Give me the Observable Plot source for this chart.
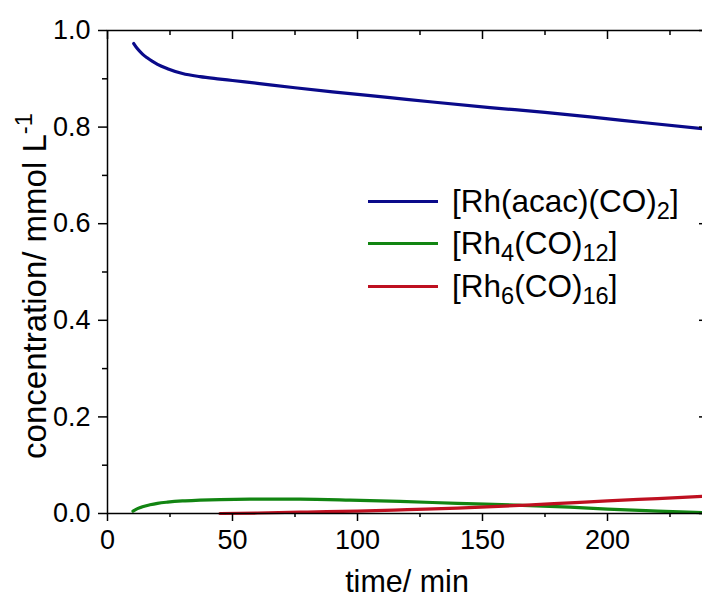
<!DOCTYPE html>
<html><head><meta charset="utf-8">
<script src="https://cdn.jsdelivr.net/npm/d3@7"></script>
<script src="https://cdn.jsdelivr.net/npm/@observablehq/plot@0.6"></script>
<style>
html,body{margin:0;padding:0;background:#fff;overflow:hidden;width:702px;height:599px}
#wrap{position:relative;width:702px;height:599px;overflow:hidden;font-family:"Liberation Sans",Arial,sans-serif;color:#000}
#wrap svg{max-width:none !important;width:710px !important;height:599px !important;display:block}
#legend{position:absolute;left:368px;top:180px;font-size:31.5px}
.row{display:flex;align-items:center;height:42.5px;white-space:nowrap}
.sw{width:70px;height:3px;margin-right:14px}
.lbl{line-height:1}
sub{font-size:0.75em;vertical-align:-0.28em;line-height:0}
sup{font-size:0.72em;vertical-align:0.55em;line-height:0}
#ytitle{position:absolute;left:34px;top:286px;transform:translate(-50%,-50%) rotate(-90deg);font-size:33px;line-height:1;white-space:nowrap}
#xtitle{position:absolute;left:407px;top:569px;transform:translateX(-50%);font-size:30.5px;line-height:24px;height:24px;white-space:nowrap}
</style></head><body><div id="wrap"></div>
<script>
// ---- data ----
const seriesNames = ["[Rh(acac)(CO)2]", "[Rh4(CO)12]", "[Rh6(CO)16]"];
const seriesLabelsHTML = ["[Rh(acac)(CO)<sub>2</sub>]", "[Rh<sub>4</sub>(CO)<sub>12</sub>]", "[Rh<sub>6</sub>(CO)<sub>16</sub>]"];
const seriesColors = ["#0a0a8a", "#128512", "#be1020"];

const timeBlue = [10.5, 12, 14, 16, 18, 20, 24, 30, 37, 45, 50, 60, 75, 90, 113, 130, 153, 175, 193, 215, 240];
const concBlue = [0.973, 0.962, 0.951, 0.943, 0.936, 0.930, 0.921, 0.911, 0.9045, 0.8995, 0.8965, 0.8905, 0.8815, 0.873, 0.861, 0.852, 0.8405, 0.8305, 0.821, 0.809, 0.7955];

const timeGreen = [10.2, 12, 14, 17, 20, 24, 30, 37, 45, 57, 77, 97, 117, 140, 166, 185, 200, 220, 240];
const concGreen = [0.005, 0.010, 0.014, 0.018, 0.021, 0.0235, 0.026, 0.0275, 0.0288, 0.0296, 0.0296, 0.0278, 0.025, 0.021, 0.017, 0.013, 0.009, 0.005, 0.0015];

const timeRed = [45, 60, 80, 100, 120, 140, 166, 185, 200, 220, 240];
const concRed = [0.0, 0.001, 0.003, 0.005, 0.008, 0.011, 0.017, 0.022, 0.026, 0.031, 0.036];

const xTicks = [0, 50, 100, 150, 200];
const xMinorTicks = [25, 75, 125, 175, 225];
const yTicks = [0.0, 0.2, 0.4, 0.6, 0.8, 1.0];
const yMinorTicks = [0.1, 0.3, 0.5, 0.7, 0.9];
const xTitle = "time/ min";
const yTitleHTML = "concentration/ mmol L<sup>-1</sup>";

// ---- build table ----
const rows = [];
[[timeBlue, concBlue], [timeGreen, concGreen], [timeRed, concRed]].forEach(([ts, cs], i) => {
  ts.forEach((t, j) => rows.push({t, c: cs[j], s: seriesNames[i]}));
});

const blank = () => "";
const plot = Plot.plot({
  width: 710, height: 599,
  marginLeft: 107, marginRight: 3, marginTop: 30, marginBottom: 86,
  style: {fontFamily: "'Liberation Sans', Arial, sans-serif", fontSize: "26px", background: "white", color: "black"},
  x: {domain: [0, 240]},
  y: {domain: [0, 1]},
  color: {domain: seriesNames, range: seriesColors},
  marks: [
    Plot.line(rows, {x: "t", y: "c", z: "s", stroke: "s", strokeWidth: 3.2, curve: "monotone-x"}),
    Plot.frame({stroke: "black", strokeWidth: 1.5}),
    Plot.axisX(xTicks, {anchor: "bottom", tickSize: 8, tickPadding: 8, strokeWidth: 1.5, label: null, tickFormat: d => String(d), fontSize: 27}),
    Plot.axisX(xMinorTicks, {anchor: "bottom", tickSize: 4, strokeWidth: 1.5, label: null, tickFormat: blank}),
    Plot.axisX(xTicks, {anchor: "top", tickSize: -8, strokeWidth: 1.5, label: null, tickFormat: blank}),
    Plot.axisX(xMinorTicks, {anchor: "top", tickSize: -4, strokeWidth: 1.5, label: null, tickFormat: blank}),
    Plot.axisY(yTicks, {anchor: "left", tickSize: 9, tickPadding: 8, strokeWidth: 1.5, label: null, tickFormat: d3.format(".1f"), fontSize: 27}),
    Plot.axisY(yMinorTicks, {anchor: "left", tickSize: 5, strokeWidth: 1.5, label: null, tickFormat: blank}),
    Plot.axisY(yTicks, {anchor: "right", tickSize: -9, strokeWidth: 1.5, label: null, tickFormat: blank}),
    Plot.axisY(yMinorTicks, {anchor: "right", tickSize: -5, strokeWidth: 1.5, label: null, tickFormat: blank})
  ]
});

const wrap = document.getElementById("wrap");
wrap.appendChild(plot);

const legend = document.createElement("div");
legend.id = "legend";
seriesNames.forEach((n, i) => {
  const r = document.createElement("div");
  r.className = "row";
  r.innerHTML = `<div class="sw" style="background:${seriesColors[i]}"></div><span class="lbl">${seriesLabelsHTML[i]}</span>`;
  legend.appendChild(r);
});
wrap.appendChild(legend);

const yt = document.createElement("div");
yt.id = "ytitle"; yt.innerHTML = yTitleHTML; wrap.appendChild(yt);
const xt = document.createElement("div");
xt.id = "xtitle"; xt.textContent = xTitle; wrap.appendChild(xt);
</script>
</body></html>
